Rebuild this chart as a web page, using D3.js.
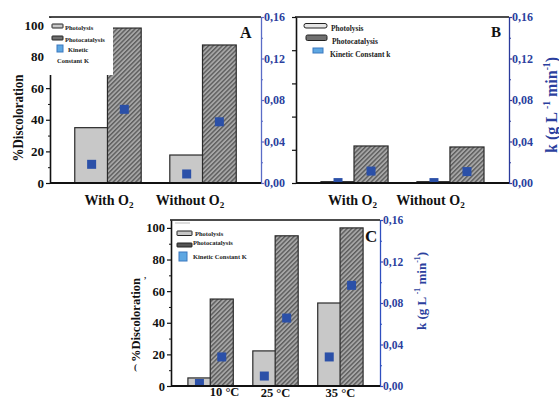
<!DOCTYPE html>
<html><head><meta charset="utf-8">
<script src="https://cdn.jsdelivr.net/npm/d3@7"></script>
<style>
html,body{margin:0;padding:0;background:#fff;}
svg{display:block;}
text{font-family:"Liberation Serif","Times New Roman",serif;font-weight:bold;}
</style></head>
<body><div id="chart"></div>
<script>
// ---------- DATA ----------
const catsAB = ["With O2", "Without O2"];
const catsC = ["10 °C", "25 °C", "35 °C"];

const photolysisA = [35, 17.7];
const photocatalysisA = [98, 87.3];
const kPhotolysisA = [0.018, 0.0087];
const kPhotocatalysisA = [0.071, 0.059];

const photolysisB = [0.8, 0.8];
const photocatalysisB = [22.3, 21.7];
const kPhotolysisB = [0.0004, 0.0004];
const kPhotocatalysisB = [0.0115, 0.011];

const photolysisC = [5.1, 22.2, 52.5];
const photocatalysisC = [55, 95, 100];
const kPhotolysisC = [0.0024, 0.0096, 0.028];
const kPhotocatalysisC = [0.028, 0.0655, 0.097];

const leftTicks = [0, 20, 40, 60, 80, 100];
const leftMinor = [10, 30, 50, 70, 90];
const rightTicks = [0, 0.04, 0.08, 0.12, 0.16];
const rightMinor = [0.02, 0.06, 0.10, 0.14];

const legendA = ["Photolysis", "Photocatalysis", "Kinetic", "Constant K"];
const legendB = ["Photolysis", "Photocatalysis", "Kinetic Constant k"];
const legendC = ["Photolysis", "Photocatalysis", "Kinetic Constant K"];

// ---------- DRAW ----------
const W = 559, H = 400;
const svg = d3.select("#chart").append("svg").attr("width", W).attr("height", H);
svg.append("rect").attr("width", W).attr("height", H).attr("fill", "#fff");

const defs = svg.append("defs");
const pat = defs.append("pattern").attr("id", "hatch").attr("patternUnits", "userSpaceOnUse")
  .attr("width", 3.2).attr("height", 3.2).attr("patternTransform", "rotate(45)");
pat.append("rect").attr("width", 3.2).attr("height", 3.2).attr("fill", "#a6a6a6");
pat.append("line").attr("x1", 0.7).attr("y1", 0).attr("x2", 0.7).attr("y2", 3.2)
  .attr("stroke", "#5c5c5c").attr("stroke-width", 1.4);

const fmtK = v => d3.format(".2f")(v).replace(".", ",");
const markerBlue = "#2b50a8";
const labelBlue = "#2b3f9e";

function catLabel(sel, t) {
  if (/O2$/.test(t)) {
    sel.text(t.slice(0, -1));
    sel.append("tspan").attr("font-size", "0.65em").attr("dy", "0.28em").text("2");
  } else sel.text(t);
}

function drawPanel(p) {
  const g = svg.append("g");
  const x = d3.scalePoint().domain(p.cats).range([p.left, p.right]).padding(0.61);
  const y = d3.scaleLinear().domain([0, p.yMax]).range([p.bottom, p.top]);
  const yk = d3.scaleLinear().domain([0, 0.16]).range([p.bottom, p.top]);
  const step = x.step();
  const bw = step * 0.355, off = step * 0.172;

  const clipId = "clip" + p.id;
  defs.append("clipPath").attr("id", clipId).append("rect")
    .attr("x", p.left).attr("y", p.top).attr("width", p.right - p.left).attr("height", p.bottom - p.top);

  // bars
  g.selectAll(".bp").data(p.cats).join("rect")
    .attr("x", d => x(d) - off - bw / 2).attr("width", bw)
    .attr("y", (d, i) => y(p.phot[i])).attr("height", (d, i) => p.bottom - y(p.phot[i]))
    .attr("fill", "#c8c8c8").attr("stroke", "#2a2a2a").attr("stroke-width", 1.2);
  g.selectAll(".bc").data(p.cats).join("rect")
    .attr("x", d => x(d) + off - bw / 2).attr("width", bw)
    .attr("y", (d, i) => y(p.cat[i])).attr("height", (d, i) => p.bottom - y(p.cat[i]))
    .attr("fill", "url(#hatch)").attr("stroke", "#2a2a2a").attr("stroke-width", 1.2);

  // kinetic markers
  const mk = g.append("g").attr("clip-path", `url(#${clipId})`);
  const ms = 9;
  mk.selectAll(".mp").data(p.cats).join("rect")
    .attr("x", d => x(d) - off - ms / 2).attr("y", (d, i) => yk(p.kPhot[i]) - ms / 2)
    .attr("width", ms).attr("height", ms).attr("fill", markerBlue);
  mk.selectAll(".mc").data(p.cats).join("rect")
    .attr("x", d => x(d) + off - ms / 2).attr("y", (d, i) => yk(p.kCat[i]) - ms / 2)
    .attr("width", ms).attr("height", ms).attr("fill", markerBlue);

  // left axis
  const la = g.append("g").attr("transform", `translate(${p.left},0)`)
    .call(d3.axisLeft(y).tickValues(leftTicks).tickSize(4).tickSizeOuter(0).tickPadding(2)
      .tickFormat(p.leftLabels ? d3.format("d") : () => ""));
  la.select(".domain").attr("stroke", "#111").attr("stroke-width", 1.6);
  la.selectAll(".tick line").attr("stroke", "#111").attr("stroke-width", 1.2);
  la.selectAll("text").attr("font-size", p.tickFont).attr("fill", "#111")
    .style("font-family", '"Liberation Serif",serif').style("font-weight", "bold");
  if (p.leftMinor) {
    const lm = g.append("g").attr("transform", `translate(${p.left},0)`)
      .call(d3.axisLeft(y).tickValues(leftMinor).tickSize(2).tickSizeOuter(0).tickFormat(() => ""));
    lm.select(".domain").remove();
    lm.selectAll(".tick line").attr("stroke", "#111");
  }

  // right axis
  const ra = g.append("g").attr("transform", `translate(${p.right},0)`)
    .call(d3.axisRight(yk).tickValues(rightTicks).tickSize(3).tickSizeOuter(0).tickPadding(0).tickFormat(fmtK));
  ra.select(".domain").attr("stroke", p.rightColor).attr("stroke-width", 1.3);
  ra.selectAll(".tick line").attr("stroke", p.rightColor).attr("stroke-width", 1.2);
  ra.selectAll("text").attr("font-size", p.rTickFont).attr("fill", labelBlue)
    .style("font-family", '"Liberation Serif",serif').style("font-weight", "bold");
  const rm = g.append("g").attr("transform", `translate(${p.right},0)`)
    .call(d3.axisRight(yk).tickValues(rightMinor).tickSize(2).tickSizeOuter(0).tickFormat(() => ""));
  rm.select(".domain").remove();
  rm.selectAll(".tick line").attr("stroke", p.rightColor);

  // bottom and top frame
  g.append("line").attr("x1", p.left).attr("x2", p.right).attr("y1", p.bottom).attr("y2", p.bottom)
    .attr("stroke", "#111").attr("stroke-width", 1.8);
  g.append("line").attr("x1", p.left - 1).attr("x2", p.right).attr("y1", p.top).attr("y2", p.top)
    .attr("stroke", "#111").attr("stroke-width", 1.3);

  // category labels
  g.selectAll(".cl").data(p.cats).join("text")
    .attr("x", (d, i) => x(d) + p.labelOff[i]).attr("y", (d, i) => p.labelY[i])
    .attr("text-anchor", "middle").attr("font-size", p.catFont).attr("fill", "#111")
    .each(function (d) { catLabel(d3.select(this), d); });

  // panel letter
  g.append("text").attr("x", p.letterX).attr("y", p.letterY).attr("font-size", p.letterFont)
    .attr("fill", "#111").text(p.letter);

  return { g, x, y, yk };
}

// Panel A
drawPanel({
  id: "A", left: 50, right: 261, top: 17, bottom: 183, yMax: 105, cats: catsAB,
  phot: photolysisA, cat: photocatalysisA, kPhot: kPhotolysisA, kCat: kPhotocatalysisA,
  leftLabels: true, leftMinor: true, tickFont: 13, rTickFont: 12, rightColor: "#5a6cc6",
  catFont: 14, labelOff: [1, -13], labelY: [205, 205],
  letter: "A", letterX: 240, letterY: 38, letterFont: 16
});
// Panel B
drawPanel({
  id: "B", left: 296, right: 509, top: 17, bottom: 183, yMax: 100, cats: catsAB,
  phot: photolysisB, cat: photocatalysisB, kPhot: kPhotolysisB, kCat: kPhotocatalysisB,
  leftLabels: false, leftMinor: false, tickFont: 12, rTickFont: 12, rightColor: "#2b3b9c",
  catFont: 14, labelOff: [-2, -20], labelY: [205, 205],
  letter: "B", letterX: 491, letterY: 37, letterFont: 15
});
// Panel C
drawPanel({
  id: "C", left: 171, right: 380, top: 220, bottom: 386, yMax: 105, cats: catsC,
  phot: photolysisC, cat: photocatalysisC, kPhot: kPhotolysisC, kCat: kPhotocatalysisC,
  leftLabels: true, leftMinor: true, tickFont: 12.5, rTickFont: 11.5, rightColor: "#2f4fbf",
  catFont: 12.5, labelOff: [14, 0, 0], labelY: [395.5, 397, 397],
  letter: "C", letterX: 365, letterY: 242, letterFont: 17
});

// Y axis titles
function yTitle(xp, yp, size, len) {
  svg.append("text").attr("transform", `translate(${xp},${yp}) rotate(-90)`)
    .attr("text-anchor", "middle").attr("font-size", size).attr("fill", "#111")
    .attr("textLength", len).attr("lengthAdjust", "spacingAndGlyphs")
    .text("%Discoloration");
}
yTitle(23, 118, 14, 87);
yTitle(140, 320, 12.5, 84);

function kTitle(xp, yp, size) {
  const t = svg.append("text").attr("transform", `translate(${xp},${yp}) rotate(-90)`)
    .attr("text-anchor", "middle").attr("font-size", size).attr("fill", labelBlue);
  t.append("tspan").text("k (g L ");
  t.append("tspan").attr("font-size", "0.6em").attr("dy", "-0.75em").text("-1");
  t.append("tspan").attr("dy", "0.45em").text(" min");
  t.append("tspan").attr("font-size", "0.6em").attr("dy", "-0.75em").text("-1");
  t.append("tspan").attr("dy", "0.45em").text(")");
}
kTitle(557, 105, 16);
kTitle(426, 291, 13);

// Legends
function swatch(x, y, w, h, fill, stroke, r) {
  svg.append("rect").attr("x", x).attr("y", y).attr("width", w).attr("height", h)
    .attr("rx", r || 0).attr("fill", fill).attr("stroke", stroke).attr("stroke-width", 1);
}
function ltext(x, y, s, t) {
  svg.append("text").attr("x", x).attr("y", y).attr("font-size", s).attr("fill", "#222").text(t);
}
// Legend A (white box covering corner)
svg.append("rect").attr("x", 46).attr("y", 18).attr("width", 67).attr("height", 57).attr("fill", "#fff");
swatch(52, 24, 11, 4, "#c8c8c8", "#222", 0.5);
ltext(65, 29.5, 6.5, legendA[0]);
swatch(52, 36, 11, 4, "#707070", "#222", 0.5);
ltext(65, 41.5, 6.5, legendA[1]);
swatch(57, 45, 6, 7, "#5ea7e2", "#3b78bf", 0);
ltext(68, 52, 6.5, legendA[2]);
ltext(57, 63, 6.5, legendA[3]);
// Legend B
swatch(304, 23.5, 23, 4.5, "#e6e6e6", "#222", 2);
ltext(331, 30.5, 7.5, legendB[0]);
swatch(306, 35, 21, 5.5, "#707070", "#222", 1.5);
ltext(332, 44, 7.5, legendB[1]);
swatch(313, 48, 10, 5, "#5ea7e2", "#3b78bf", 0);
ltext(330, 57, 7.5, legendB[2]);
// Legend C
svg.append("line").attr("x1", 175).attr("x2", 190).attr("y1", 223).attr("y2", 223)
  .attr("stroke", "#bbb").attr("stroke-width", 1);
swatch(177, 231, 15, 4.5, "#c8c8c8", "#222", 0.5);
ltext(195, 236, 6.5, legendC[0]);
swatch(177, 243, 15, 4, "#555", "#222", 0.5);
ltext(193, 245, 6.5, legendC[1]);
swatch(179, 252, 8, 9, "#5ea7e2", "#3b78bf", 0);
ltext(193, 259, 6.5, legendC[2]);

// stray marks in panel C margin
ltext(134, 370, 9, "(");
ltext(144, 278, 9, ",");
</script>
</body></html>
